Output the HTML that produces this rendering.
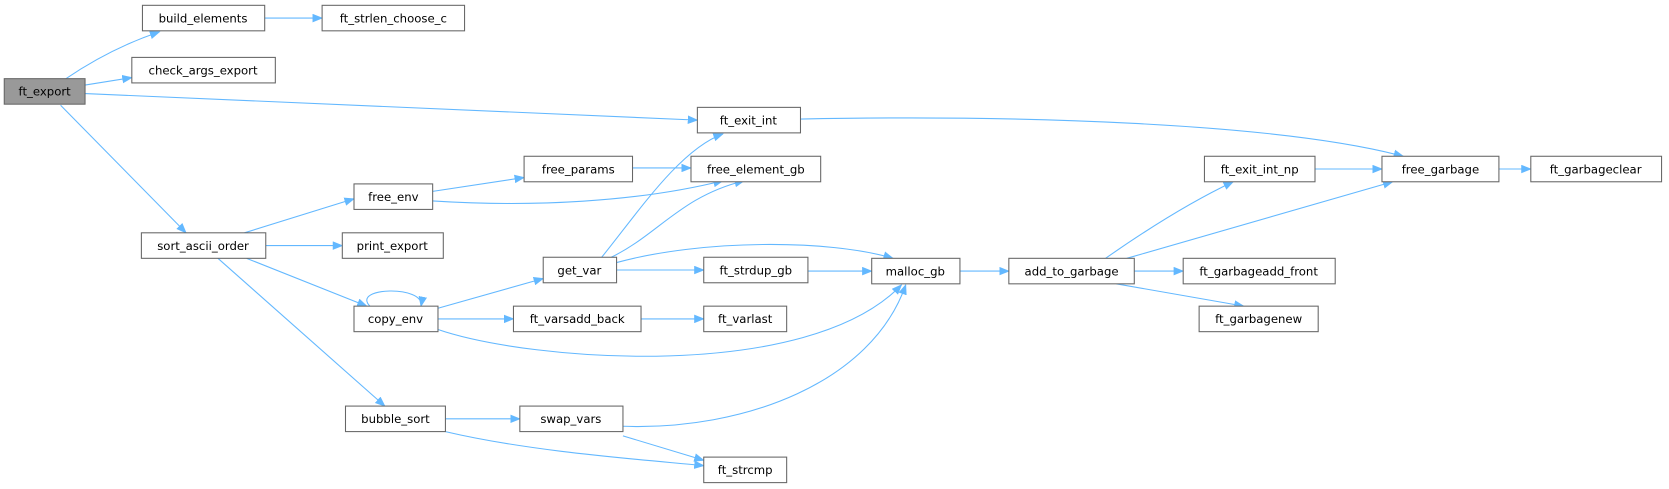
<!DOCTYPE html>
<html><head><meta charset="utf-8"><style>
html,body{margin:0;padding:0;background:#fff;width:1669px;height:489px;overflow:hidden}
svg{display:block}
text{font-family:"DejaVu Sans","Liberation Sans",sans-serif;font-size:11px;fill:#000;text-anchor:middle}
.e{fill:none;stroke:#63b8ff;stroke-width:1;marker-end:url(#a)}
.n{fill:#fff;stroke:#666;stroke-width:1}
</style></head><body>
<svg width="1669" height="489" viewBox="0 0 1570 460" preserveAspectRatio="none">
<defs><marker id="a" markerWidth="10" markerHeight="8" refX="9" refY="4" orient="auto" markerUnits="userSpaceOnUse"><path d="M0,0 L10,4 L0,8 z" fill="#63b8ff"/></marker></defs>
<path class="e" d="M62,74 C90,55 120,40 150,30"/>
<path class="e" d="M80,80 L124,73"/>
<path class="e" d="M80,88 L656,113"/>
<path class="e" d="M57,99 L175,219"/>
<path class="e" d="M249,17 L303,17"/>
<path class="e" d="M753,112 C950,108 1200,115 1320,147"/>
<path class="e" d="M230,219 L333,187"/>
<path class="e" d="M250,231 L322,231"/>
<path class="e" d="M232,243 L345,288"/>
<path class="e" d="M205,243 L362,382"/>
<path class="e" d="M407,180 L493,167"/>
<path class="e" d="M407,189 C500,195 600,190 680,170"/>
<path class="e" d="M595,158 L650,158"/>
<path class="e" d="M566,242 C600,200 640,140 680,126"/>
<path class="e" d="M575,242 C620,220 640,185 700,170"/>
<path class="e" d="M580,247 C660,225 780,225 840,243"/>
<path class="e" d="M580,254 L662,254"/>
<path class="e" d="M760,255 L820,255"/>
<path class="e" d="M903,255 L949,255"/>
<path class="e" d="M1040,243 C1080,215 1120,190 1160,171"/>
<path class="e" d="M1060,243 L1310,171"/>
<path class="e" d="M1067,255 L1113,255"/>
<path class="e" d="M1050,267 L1170,288"/>
<path class="e" d="M1237,159 L1300,159"/>
<path class="e" d="M1410,159 L1440,159"/>
<path class="e" d="M348,288 C330,270 400,268 396,288"/>
<path class="e" d="M412,290 L511,262"/>
<path class="e" d="M412,300 L483,300"/>
<path class="e" d="M412,310 C500,340 760,360 848,268"/>
<path class="e" d="M603,300 L662,300"/>
<path class="e" d="M419,394 L489,394"/>
<path class="e" d="M419,406 C500,425 600,432 662,438"/>
<path class="e" d="M586,401 C700,405 820,360 852,268"/>
<path class="e" d="M586,410 L662,433"/>
<rect x="4" y="74" width="76" height="24" fill="#999" stroke="#666"/><text x="42" y="90">ft_export</text>
<rect class="n" x="134" y="5" width="115" height="24"/><text x="191" y="21">build_elements</text>
<rect class="n" x="303" y="5" width="134" height="24"/><text x="370" y="21">ft_strlen_choose_c</text>
<rect class="n" x="124" y="54" width="135" height="24"/><text x="191" y="70">check_args_export</text>
<rect class="n" x="656" y="101" width="97" height="24"/><text x="704" y="117">ft_exit_int</text>
<rect class="n" x="493" y="147" width="102" height="24"/><text x="544" y="163">free_params</text>
<rect class="n" x="650" y="147" width="122" height="24"/><text x="711" y="163">free_element_gb</text>
<rect class="n" x="1133" y="147" width="104" height="24"/><text x="1185" y="163">ft_exit_int_np</text>
<rect class="n" x="1300" y="147" width="110" height="24"/><text x="1355" y="163">free_garbage</text>
<rect class="n" x="1440" y="147" width="123" height="24"/><text x="1501" y="163">ft_garbageclear</text>
<rect class="n" x="333" y="173" width="74" height="24"/><text x="370" y="189">free_env</text>
<rect class="n" x="133" y="219" width="117" height="24"/><text x="191" y="235">sort_ascii_order</text>
<rect class="n" x="322" y="219" width="95" height="24"/><text x="369" y="235">print_export</text>
<rect class="n" x="511" y="242" width="69" height="24"/><text x="545" y="258">get_var</text>
<rect class="n" x="662" y="242" width="98" height="24"/><text x="711" y="258">ft_strdup_gb</text>
<rect class="n" x="820" y="243" width="83" height="24"/><text x="861" y="259">malloc_gb</text>
<rect class="n" x="949" y="243" width="118" height="24"/><text x="1008" y="259">add_to_garbage</text>
<rect class="n" x="1113" y="243" width="143" height="24"/><text x="1184" y="259">ft_garbageadd_front</text>
<rect class="n" x="1128" y="288" width="112" height="24"/><text x="1184" y="304">ft_garbagenew</text>
<rect class="n" x="333" y="288" width="79" height="24"/><text x="372" y="304">copy_env</text>
<rect class="n" x="483" y="288" width="120" height="24"/><text x="543" y="304">ft_varsadd_back</text>
<rect class="n" x="662" y="288" width="78" height="24"/><text x="701" y="304">ft_varlast</text>
<rect class="n" x="325" y="382" width="94" height="24"/><text x="372" y="398">bubble_sort</text>
<rect class="n" x="489" y="382" width="97" height="24"/><text x="537" y="398">swap_vars</text>
<rect class="n" x="662" y="430" width="78" height="24"/><text x="701" y="446">ft_strcmp</text>
</svg>
</body></html>
